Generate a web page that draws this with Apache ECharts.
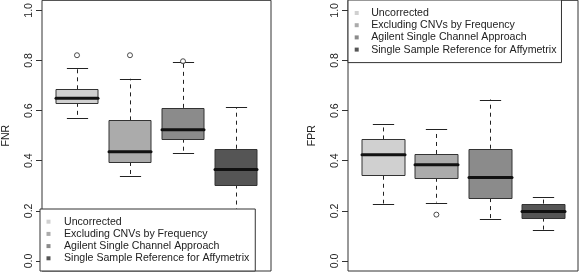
<!DOCTYPE html>
<html>
<head>
<meta charset="utf-8">
<script src="https://cdn.jsdelivr.net/npm/echarts@6/dist/echarts.min.js"></script>
<style>
  html, body { margin: 0; padding: 0; background: #fff; }
  #chart { width: 579px; height: 272px; }
</style>
</head>
<body>
<div id="chart"></div>
<script>
// groups, in plotting order
var categories = [
    'Uncorrected',
    'Excluding CNVs by Frequency',
    'Agilent Single Channel Approach',
    'Single Sample Reference for Affymetrix'
];
var fills = ['#d0d0d0', '#ababab', '#8b8b8b', '#555555'];

// [lower whisker, Q1, median, Q3, upper whisker]
var fnrStats = [
    [0.569, 0.631, 0.649, 0.685, 0.771],
    [0.341, 0.395, 0.436, 0.561, 0.727],
    [0.429, 0.488, 0.524, 0.611, 0.795],
    [0.200, 0.305, 0.365, 0.448, 0.613]
];
var fnrOutliers = [[1, 0.821], [2, 0.821], [3, 0.797]];

var fprStats = [
    [0.229, 0.340, 0.424, 0.485, 0.547],
    [0.233, 0.332, 0.384, 0.427, 0.525],
    [0.167, 0.251, 0.333, 0.448, 0.644],
    [0.124, 0.173, 0.197, 0.229, 0.255]
];
var fprOutliers = [[2, 0.185]];

var yTicks = [0, 0.2, 0.4, 0.6, 0.8, 1.0];

var FONT = '"Liberation Sans", Arial, Helvetica, sans-serif';
var INK = '#222';

function crisp(v) {
    return Math.round(v) + 0.5;
}

// R style box: dashed whiskers, half width staples, thick median
function renderBox(params, api) {
    var x = api.value(0);
    var w = api.size([0.8, 0])[0];
    var lo = api.coord([x, api.value(1)]);
    var q1 = api.coord([x, api.value(2)]);
    var md = api.coord([x, api.value(3)]);
    var q3 = api.coord([x, api.value(4)]);
    var hi = api.coord([x, api.value(5)]);
    var cx = crisp(lo[0]);
    var dash = { stroke: INK, lineWidth: 1, lineDash: [4, 4] };
    var solid = { stroke: INK, lineWidth: 1 };
    return {
        type: 'group',
        children: [
            { type: 'line', shape: { x1: cx, y1: q3[1], x2: cx, y2: hi[1] }, style: dash },
            { type: 'line', shape: { x1: cx, y1: q1[1], x2: cx, y2: lo[1] }, style: dash },
            { type: 'line', shape: { x1: cx - w / 4, y1: crisp(hi[1]), x2: cx + w / 4, y2: crisp(hi[1]) }, style: solid },
            { type: 'line', shape: { x1: cx - w / 4, y1: crisp(lo[1]), x2: cx + w / 4, y2: crisp(lo[1]) }, style: solid },
            {
                type: 'rect',
                shape: { x: Math.round(cx - w / 2), y: crisp(q3[1]), width: Math.round(w), height: Math.round(q1[1] - q3[1]) },
                style: { fill: api.visual('color'), stroke: '#333', lineWidth: 1 }
            },
            {
                type: 'line',
                shape: { x1: Math.round(cx - w / 2), y1: md[1], x2: Math.round(cx - w / 2) + Math.round(w), y2: md[1] },
                style: { stroke: '#111', lineWidth: 3, lineCap: 'round' }
            }
        ]
    };
}

function panelSeries(panel, stats, outliers) {
    var list = [];
    for (var i = 0; i < categories.length; i++) {
        list.push({
            type: 'custom',
            name: categories[i],
            xAxisIndex: panel,
            yAxisIndex: panel,
            itemStyle: { color: fills[i] },
            encode: { x: 0, y: [1, 2, 3, 4, 5] },
            data: [[i + 1].concat(stats[i])],
            renderItem: renderBox,
            silent: true
        });
    }
    list.push({
        type: 'scatter',
        xAxisIndex: panel,
        yAxisIndex: panel,
        symbol: 'circle',
        symbolSize: 5,
        itemStyle: { color: '#fff', borderColor: INK, borderWidth: 1 },
        data: outliers,
        silent: true
    });
    return list;
}

function yAxis(panel, name) {
    return {
        gridIndex: panel,
        type: 'value',
        min: -0.04,
        max: 1.04,
        name: name,
        nameLocation: 'middle',
        nameRotate: 90,
        nameGap: 30,
        nameTextStyle: { fontFamily: FONT, fontSize: 10.6, color: INK },
        axisLine: { show: false },
        splitLine: { show: false },
        axisTick: { show: true, length: 6, customValues: yTicks, lineStyle: { color: '#333' } },
        axisLabel: {
            customValues: yTicks,
            rotate: 90,
            margin: 7,
            fontFamily: FONT,
            fontSize: 10.6,
            color: INK,
            formatter: function (v) { return v.toFixed(1); }
        }
    };
}

function xAxis(panel) {
    return { gridIndex: panel, type: 'value', min: 0.34, max: 4.66, show: false };
}

function legend(left, top, padding, textPad) {
    return {
        data: categories,
        left: left,
        top: top,
        orient: 'vertical',
        icon: 'rect',
        itemWidth: 4,
        itemHeight: 4,
        itemGap: 0.2,
        padding: padding,
        borderColor: '#333',
        borderWidth: 1,
        borderRadius: 0,
        backgroundColor: '#fff',
        selectedMode: false,
        itemStyle: { borderWidth: 0 },
        textStyle: { fontFamily: FONT, fontSize: 10.6, color: INK, lineHeight: 12, padding: [0, 0, 0, textPad] }
    };
}

var myChart = echarts.init(document.getElementById('chart'), null, { renderer: 'canvas' });
var option = {
    animation: false,
    backgroundColor: '#fff',
    grid: [
        { left: 40, top: 0, width: 231, height: 271, show: true, borderColor: '#333', borderWidth: 1, backgroundColor: 'transparent' },
        { left: 348, top: 0, width: 230, height: 271, show: true, borderColor: '#333', borderWidth: 1, backgroundColor: 'transparent' }
    ],
    xAxis: [xAxis(0), xAxis(1)],
    yAxis: [yAxis(0, 'FNR'), yAxis(1, 'FPR')],
    legend: [
        legend(40, 209, [6.7, 6, 6.7, 6.5], 8.5),
        legend(348, 0, [7, 5, 7, 6.7], 7.5)
    ],
    series: panelSeries(0, fnrStats, fnrOutliers).concat(panelSeries(1, fprStats, fprOutliers))
};
myChart.setOption(option);
</script>
</body>
</html>
